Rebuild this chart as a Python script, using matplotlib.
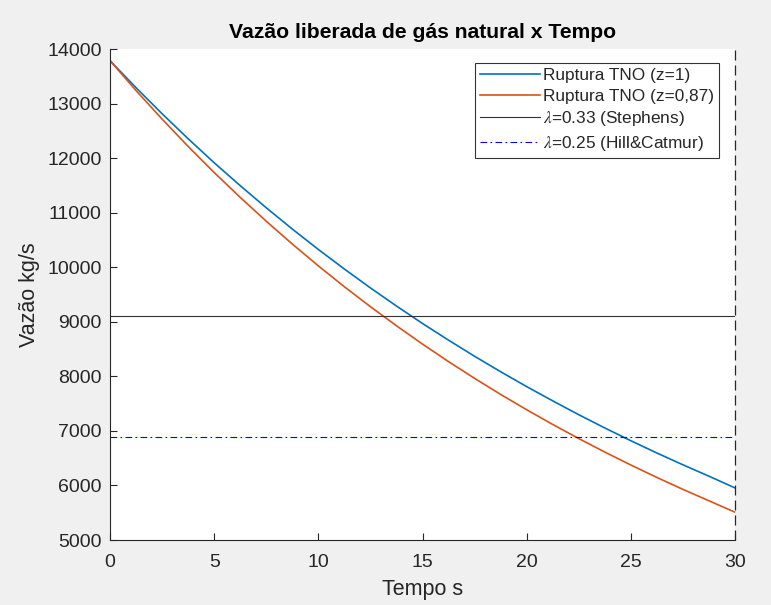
import matplotlib
matplotlib.use("Agg")
import matplotlib.pyplot as plt

plt.rcParams['font.family'] = ['Liberation Sans', 'DejaVu Sans']
plt.rcParams['mathtext.fontset'] = 'stix'

# data
tempo = [0, 1.25, 2.5, 3.75, 5, 6.25, 7.5, 8.75, 10, 11.25, 12.5, 13.75, 15,
         16.25, 17.5, 18.75, 20, 21.25, 22.5, 23.75, 25, 26.25, 27.5, 28.75, 30]
vazao_z1 = [13786, 13290, 12813, 12355, 11915, 11495, 11090, 10700, 10326, 9967,
            9621, 9289, 8969, 8663, 8368, 8085, 7812, 7551, 7297, 7054, 6820,
            6595, 6379, 6170, 5955]
vazao_z087 = [13786, 13238, 12715, 12214, 11736, 11280, 10843, 10425, 10025, 9642,
              9277, 8927, 8591, 8270, 7963, 7669, 7388, 7118, 6860, 6612, 6375,
              6147, 5928, 5719, 5510]
lambda_stephens = 9100
lambda_hill = 6890
t_final = 30

xticks = [0, 5, 10, 15, 20, 25, 30]
yticks = [5000, 6000, 7000, 8000, 9000, 10000, 11000, 12000, 13000, 14000]

txt = '#262626'

fig = plt.figure(figsize=(7.71, 6.05), dpi=100, facecolor='#f0f0f0')
ax = fig.add_axes([0.1427, 0.1074, 0.8106, 0.8116])
ax.set_facecolor('white')

ax.plot(tempo, vazao_z1, color='#0072BD', lw=1.2, label='Ruptura TNO (z=1)')
ax.plot(tempo, vazao_z087, color='#D95319', lw=1.2, label='Ruptura TNO (z=0,87)')
ax.axhline(lambda_stephens, color='#333333', lw=0.8, label=r'$\lambda$=0.33 (Stephens)')
ax.axhline(lambda_hill, color='#0000FF', lw=0.8, ls=(0, (6, 3, 1.5, 3)),
           label=r'$\lambda$=0.25 (Hill&Catmur)')
ax.axvline(t_final, color='#262626', lw=0.9, ls=(0, (8, 4)), clip_on=False)

ax.set_xlim(0, 30)
ax.set_ylim(5000, 14000)
ax.set_xticks(xticks)
ax.set_yticks(yticks)

for s in ['top', 'right']:
    ax.spines[s].set_visible(False)
for s in ['left', 'bottom']:
    ax.spines[s].set_color(txt)
    ax.spines[s].set_linewidth(0.8)
ax.tick_params(direction='in', length=5, width=0.8, colors=txt, labelsize=14)
ax.tick_params(axis='y', pad=6)
ax.tick_params(axis='x', pad=10)

ax.set_title('Vazão liberada de gás natural x Tempo', fontsize=15.2, fontweight='bold',
             color='black', pad=8)
ax.set_xlabel('Tempo s', fontsize=15.5, color=txt, labelpad=6)
ax.set_ylabel('Vazão kg/s', fontsize=15.5, color=txt, labelpad=5)

leg = ax.legend(loc='upper right', bbox_to_anchor=(0.9744, 0.9715), fontsize=12.4,
                handlelength=3.5, frameon=True, fancybox=False, borderpad=0.3,
                labelspacing=0.32, handletextpad=0.15, borderaxespad=0)
leg.get_frame().set_edgecolor('black')
leg.get_frame().set_linewidth(0.8)
for t in leg.get_texts():
    t.set_color(txt)

fig.savefig('out.png', dpi=100, facecolor=fig.get_facecolor())
